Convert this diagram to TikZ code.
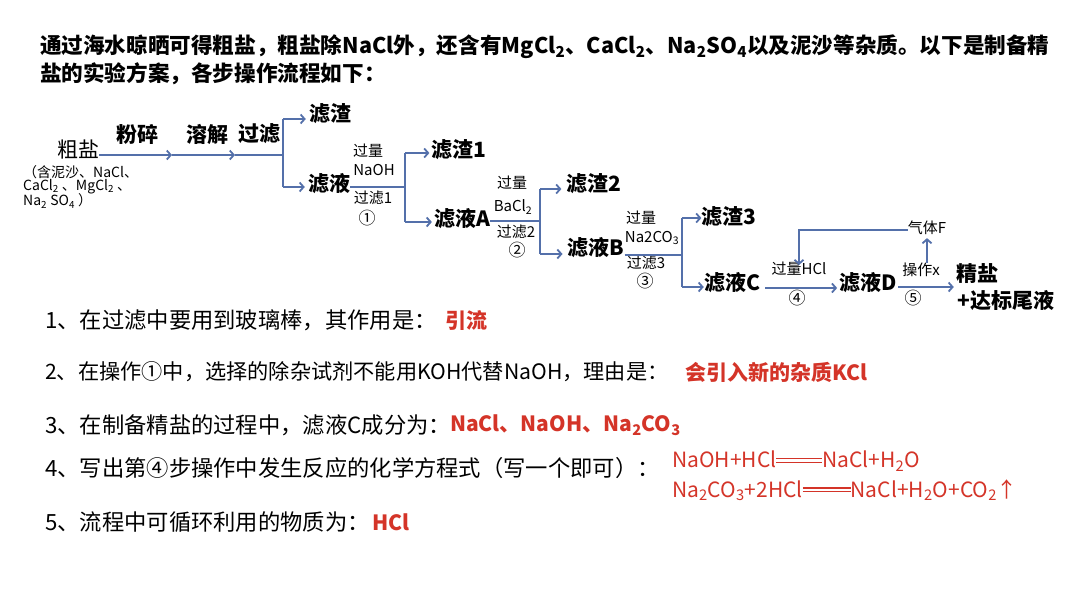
\documentclass[tikz,border=0pt]{standalone}
\usepackage{fontspec}
\setmainfont{Noto Sans CJK SC}
\usetikzlibrary{arrows.meta}
\definecolor{ar}{RGB}{84,112,170}
\definecolor{ans}{RGB}{212,52,40}
\newcommand\fsz[1]{\fontsize{#1}{#1}\selectfont}
\newcommand\dbar[1]{\rule[0.22em]{#1}{0.07em}\kern-#1\rule[0.40em]{#1}{0.07em}}
\begin{document}
\begin{tikzpicture}[x=1pt,y=-1pt,
  every node/.style={inner sep=0pt},
  big/.style={font=\bfseries\fsz{21}},
  lab/.style={font=\fsz{15}},
  cnum/.style={font=\fsz{17}},
  qtext/.style={anchor=west,font=\fsz{22.3}},
  atext/.style={anchor=west,font=\bfseries\fsz{21},text=ans},
  ln/.style={draw=ar,line width=1.8pt},
  arr/.style={draw=ar,line width=1.8pt,-{Straight Barb[length=4pt,width=9pt]}}]
\useasboundingbox (0,0) rectangle (1080,608);
\fill[white] (0,0) rectangle (1080,608);
% header
\node[anchor=west,font=\bfseries\fsz{21.6}] (h1) at (40,47) {通过海水晾晒可得粗盐，粗盐除NaCl外，还含有MgCl\textsubscript{2}、CaCl\textsubscript{2}、Na\textsubscript{2}SO\textsubscript{4}以及泥沙等杂质。以下是制备精};
\node[anchor=west,font=\bfseries\fsz{21.6}] (h2) at (40,74) {盐的实验方案，各步操作流程如下：};
% flowchart
\node[font=\fsz{21}] (cy) at (78,150) {粗盐};
\node[anchor=west,font=\fsz{14}] (c1) at (23,172) {（含泥沙、NaCl、};
\node[anchor=west,font=\fsz{14}] (c2) at (23,187) {CaCl\textsubscript{2} 、MgCl\textsubscript{2} 、};
\node[anchor=west,font=\fsz{14}] (c3) at (23,201) {Na\textsubscript{2} SO\textsubscript{4} ）};
\node[big] (fs) at (137,134) {粉碎};
\node[big] (rj) at (207,134) {溶解};
\node[big] (gl) at (259,134) {过滤};
\node[big] (zz) at (330,114) {滤渣};
\node[big] (zy) at (329,184) {滤液};
\node[big] (zz1) at (459,150) {滤渣1};
\node[big] (zyA) at (462,219) {滤液A};
\node[big] (zz2) at (594,184) {滤渣2};
\node[big] (zyB) at (596,248) {滤液B};
\node[big] (zz3) at (729,217) {滤渣3};
\node[big] (zyC) at (732,283) {滤液C};
\node[big] (zyD) at (868,283) {滤液D};
\node[big] (js) at (977,274) {精盐};
\node[big] (wy) at (1006,301) {+达标尾液};
% small labels
\node[lab] (l1a) at (368,151) {过量};
\node[lab] (l1b) at (374,170) {NaOH};
\node[lab] (l1c) at (373,198) {过滤1};
\node[cnum] (n1) at (367,218) {①};
\node[lab] (l2a) at (512,183) {过量};
\node[lab] (l2b) at (513,207) {BaCl\textsubscript{2}};
\node[lab] (l2c) at (516,232) {过滤2};
\node[cnum] (n2) at (517,250) {②};
\node[lab] (l3a) at (641,218) {过量};
\node[lab] (l3b) at (652,238) {Na2CO\textsubscript{3}};
\node[lab] (l3c) at (646,263) {过滤3};
\node[cnum] (n3) at (645,281) {③};
\node[lab] (hcl) at (799,269) {过量HCl};
\node[cnum] (n4) at (797,298) {④};
\node[lab] (qF) at (927,228) {气体F};
\node[lab] (opx) at (921,270) {操作x};
\node[cnum] (n5) at (913,298) {⑤};
% connectors stage 0
\coordinate (m1) at (172,155);
\coordinate (m2) at (235,155);
\coordinate (j0) at (283,155);
\coordinate (j0t) at (283,119);
\coordinate (j0b) at (283,187);
\draw[arr] (cy.east|-m1) -- (m1);
\draw[arr] (m1) -- (m2);
\draw[ln] (m2) -- (j0);
\draw[ln] (j0t) -- (j0b);
\draw[arr,shorten >=3pt] (j0t) -- (j0t-|zz.west);
\draw[arr,shorten >=3pt] (j0b) -- (j0b-|zy.west);
% stage 1
\coordinate (j1) at (405,187);
\coordinate (j1t) at (405,153);
\coordinate (j1b) at (405,222);
\draw[ln] (j1-|zy.east) -- (j1);
\draw[ln] (j1t) -- (j1b);
\draw[arr,shorten >=2pt] (j1t) -- (j1t-|zz1.west);
\draw[arr,shorten >=2pt] (j1b) -- (j1b-|zyA.west);
% stage 2
\coordinate (j2) at (540,221);
\coordinate (j2t) at (540,189);
\coordinate (j2b) at (540,254);
\draw[ln] (j2-|zyA.east) -- (j2);
\draw[ln] (j2t) -- (j2b);
\draw[arr,shorten >=5pt] (j2t) -- (j2t-|zz2.west);
\draw[arr,shorten >=5pt] (j2b) -- (j2b-|zyB.west);
% stage 3
\coordinate (j3) at (682,255);
\coordinate (j3t) at (682,218);
\coordinate (j3b) at (682,287);
\draw[ln] (j3-|zyB.east) -- (j3);
\draw[ln] (j3t) -- (j3b);
\draw[arr] (j3t) -- (j3t-|zz3.west);
\draw[arr] (j3b) -- (j3b-|zyC.west);
% stage 4,5
\coordinate (k4) at (765,288);
\draw[arr,shorten >=2pt] (k4) -- (k4-|zyD.west);
\coordinate (k5) at (898,287);
\draw[arr,shorten >=2pt] (k5) -- (k5-|js.west);
\coordinate (fb) at (799,265);
\draw[arr] ([yshift=-2pt]qF.west) -| (fb);
\draw[arr,shorten >=3pt] (qF.south|-opx.north) -- (qF.south);
% questions
\node[qtext] (q1) at (45,320) {1、在过滤中要用到玻璃棒，其作用是：};
\node[atext] (a1) at (445,320) {引流};
\node[qtext,font=\fsz{21.2}] (q2) at (45,372) {2、在操作①中，选择的除杂试剂不能用KOH代替NaOH，理由是：};
\node[atext] (a2) at (685,372) {会引入新的杂质KCl};
\node[qtext] (q3) at (45,425) {3、在制备精盐的过程中，滤液C成分为：};
\node[atext] (a3) at (450,425) {NaCl、NaOH、Na\textsubscript{2}CO\textsubscript{3}};
\node[qtext] (q4) at (45,468) {4、写出第④步操作中发生反应的化学方程式（写一个即可）：};
\node[atext,font=\fsz{21}] (e1) at (672,461) {NaOH+HCl\dbar{46pt}NaCl+H\textsubscript{2}O};
\node[atext,font=\fsz{21}] (e2) at (672,490) {Na\textsubscript{2}CO\textsubscript{3}+2HCl\dbar{48pt}NaCl+H\textsubscript{2}O+CO\textsubscript{2}↑};
\node[qtext] (q5) at (45,522) {5、流程中可循环利用的物质为：};
\node[atext] (a5) at (372,522) {HCl};
\end{tikzpicture}
\end{document}
